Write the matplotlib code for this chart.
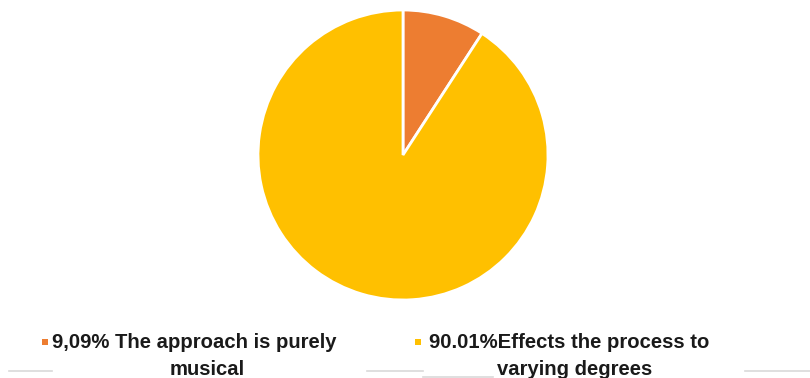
import matplotlib
matplotlib.use("Agg")
import matplotlib.pyplot as plt
from matplotlib.patches import Rectangle
from matplotlib.lines import Line2D

categories_line1 = ["9,09% The approach is purely", "90.01%Effects the process to"]
categories_line2 = ["musical", "varying degrees"]
values = [9.09, 90.01]
colors = ["#ED7D31", "#FFC000"]

plt.rcParams['font.family'] = ['Liberation Sans', 'DejaVu Sans']

W, H = 810, 378
fig = plt.figure(figsize=(W / 100, H / 100), dpi=100)
fig.patch.set_facecolor("white")

cx, cy, r = 403, 155, 145
ax = fig.add_axes([(cx - r) / W, (H - cy - r) / H, 2 * r / W, 2 * r / H])
ax.pie(values, colors=colors, startangle=90, counterclock=False, radius=1,
       wedgeprops=dict(edgecolor="white", linewidth=2))
ax.set_xlim(-1.0, 1.0)
ax.set_ylim(-1.0, 1.0)
ax.set_aspect("equal")
ax.axis("off")

# legend (manual)
marker_x = [42, 415]
text_x = [52, 429]
line2_cx = [207, 575]
fs = 14.6
for i in range(2):
    fig.add_artist(Rectangle((marker_x[i] / W, 1 - 345 / H), 6 / W, 6 / H,
                             transform=fig.transFigure, facecolor=colors[i], edgecolor="none"))
    fig.text(text_x[i] / W, 1 - 348 / H, categories_line1[i], fontsize=fs, fontweight="bold",
             color="#1a1a1a", ha="left", va="baseline")
    fig.text(line2_cx[i] / W, 1 - 375 / H, categories_line2[i], fontsize=fs, fontweight="bold",
             color="#1a1a1a", ha="center", va="baseline")

# faint separator artifacts at bottom
segs = [((9, 52), 371), ((367, 423), 371), ((423, 493), 377), ((745, 810), 371)]
for (x0, x1), y in segs:
    fig.add_artist(Line2D([x0 / W, x1 / W], [1 - y / H, 1 - y / H], transform=fig.transFigure,
                          color="#d9d9d9", linewidth=1.2))

fig.savefig("out.png", dpi=100, facecolor="white")
